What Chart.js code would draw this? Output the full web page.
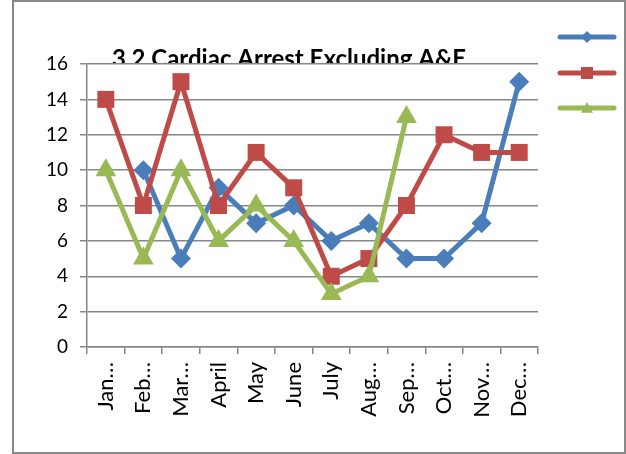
<!DOCTYPE html>
<html>
<head>
<meta charset="utf-8">
<script src="https://cdn.jsdelivr.net/npm/chart.js@4/dist/chart.umd.min.js"></script>
<style>
  html, body { margin: 0; padding: 0; background: #fff; }
  #frame { position: absolute; left: 12px; top: 0px; width: 610px; height: 450px; border: 2px solid #888; }
  #wrap { position: absolute; left: 0; top: 0; width: 626px; height: 454px; }
</style>
</head>
<body>
<div id="frame"></div>
<div id="wrap"><canvas id="chart" width="626" height="454"></canvas></div>
<script>
// chart data
var months = ['Jan…', 'Feb…', 'Mar…', 'April', 'May', 'June', 'July', 'Aug…', 'Sep…', 'Oct…', 'Nov…', 'Dec…'];
var blueSeries = [null, 10, 5, 9, 7, 8, 6, 7, 5, 5, 7, 15];
var redSeries = [14, 8, 15, 8, 11, 9, 4, 5, 8, 12, 11, 11];
var greenSeries = [10, 5, 10, 6, 8, 6, 3, 4, 13, null, null, null];
var yTicks = [0, 2, 4, 6, 8, 10, 12, 14, 16];
var titleText = '3.2 Cardiac Arrest Excluding A&E';

var BLUE = '#4A7EBB', RED = '#BE4B48', GREEN = '#98B954';
var GRID = '#868686';

// title + white plot area (title is clipped by the plot area like in Excel)
var titlePlugin = {
  id: 'excelTitle',
  beforeDraw: function(chart) {
    var ctx = chart.ctx, a = chart.chartArea;
    ctx.save();
    ctx.font = 'bold 24px Lato';
    ctx.fillStyle = '#000';
    ctx.textAlign = 'center';
    ctx.textBaseline = 'alphabetic';
    ctx.fillText(titleText, 289, 67);
    ctx.fillStyle = '#fff';
    ctx.fillRect(a.left, a.top, a.right - a.left, a.bottom - a.top + 1);
    ctx.restore();
  }
};

// legend with line samples only, no text
function drawMarker(ctx, style, x, y, r, color) {
  ctx.fillStyle = color;
  ctx.beginPath();
  if (style === 'rectRot') {
    ctx.moveTo(x, y - r); ctx.lineTo(x + r, y); ctx.lineTo(x, y + r); ctx.lineTo(x - r, y);
  } else if (style === 'rect') {
    ctx.rect(x - r, y - r, 2 * r, 2 * r);
  } else {
    ctx.moveTo(x, y - r); ctx.lineTo(x + r, y + r * 0.8); ctx.lineTo(x - r, y + r * 0.8);
  }
  ctx.closePath();
  ctx.fill();
}
var legendPlugin = {
  id: 'sideLegend',
  afterDraw: function(chart) {
    var ctx = chart.ctx;
    var items = [[BLUE, 'rectRot', 37, 6], [RED, 'rect', 73, 6], [GREEN, 'triangle', 108, 6]];
    ctx.save();
    items.forEach(function(it) {
      ctx.strokeStyle = it[0];
      ctx.lineWidth = 5;
      ctx.lineCap = 'round';
      ctx.beginPath();
      ctx.moveTo(560, it[2]);
      ctx.lineTo(614, it[2]);
      ctx.stroke();
      drawMarker(ctx, it[1], 587, it[2], it[3], it[0]);
    });
    ctx.restore();
  }
};

var ctx = document.getElementById('chart').getContext('2d');
new Chart(ctx, {
  type: 'line',
  data: {
    labels: months,
    datasets: [
      { data: blueSeries, borderColor: BLUE, backgroundColor: BLUE, pointStyle: 'rectRot', pointRadius: 10, order: 3 },
      { data: redSeries, borderColor: RED, backgroundColor: RED, pointStyle: 'rect', pointRadius: 12, order: 2 },
      { data: greenSeries, borderColor: GREEN, backgroundColor: GREEN, pointStyle: 'triangle', pointRadius: 12, order: 1 }
    ]
  },
  options: {
    responsive: false,
    animation: false,
    events: [],
    layout: { padding: { left: 10, top: 64, right: 88, bottom: 0 } },
    elements: {
      line: { borderWidth: 5, tension: 0 },
      point: { borderWidth: 0, hoverRadius: 9 }
    },
    plugins: {
      legend: { display: false },
      tooltip: { enabled: false }
    },
    scales: {
      x: {
        offset: true,
        afterFit: function(s) { s.height = 107; },
        grid: { offset: true, drawOnChartArea: false, drawTicks: true, tickLength: 7, color: GRID, lineWidth: 1.5 },
        border: { color: GRID, width: 1.5 },
        ticks: { maxRotation: 90, minRotation: 90, autoSkip: false, color: '#000', font: { family: 'Lato', size: 22 }, padding: 8 }
      },
      y: {
        min: 0,
        max: 16,
        afterFit: function(s) { s.width = 77; },
        afterBuildTicks: function(s) { s.ticks = yTicks.map(function(v) { return { value: v }; }); },
        grid: { color: GRID, lineWidth: 1.5, drawTicks: true, tickLength: 7 },
        border: { color: GRID, width: 1.5 },
        ticks: { color: '#000', font: { family: 'Lato', size: 19 }, padding: 12 }
      }
    }
  },
  plugins: [titlePlugin, legendPlugin]
});
</script>
</body>
</html>
